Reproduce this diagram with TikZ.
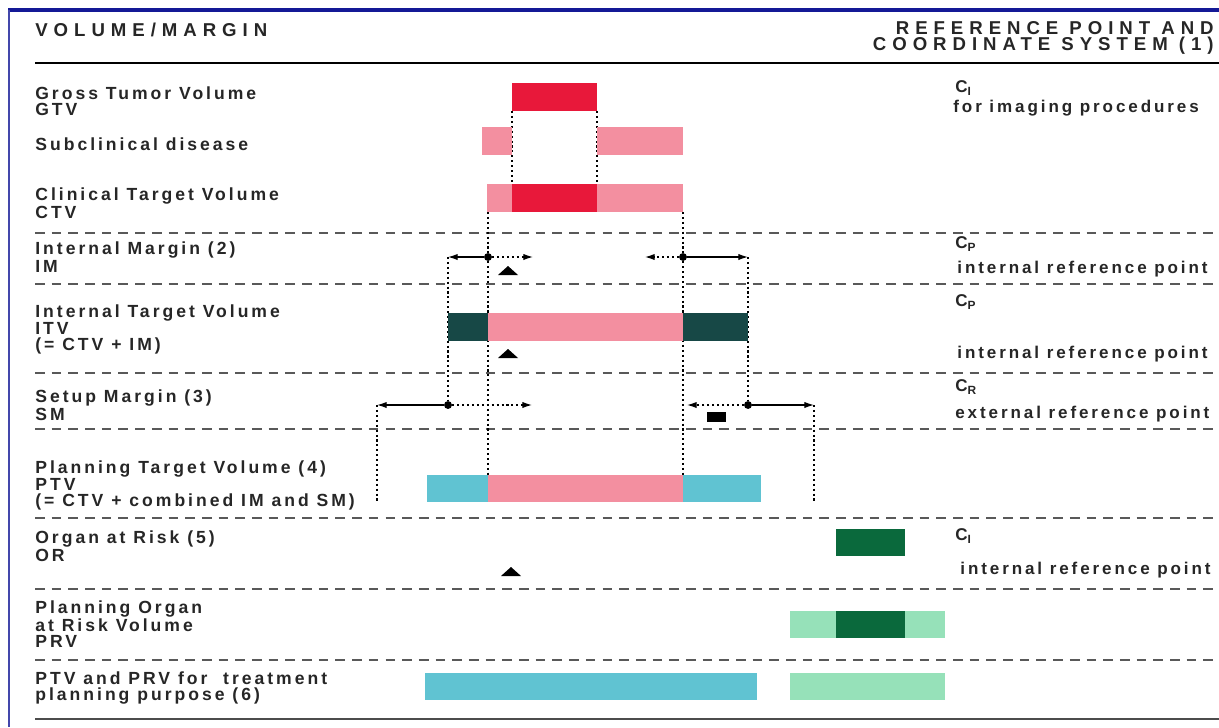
\documentclass[tikz,border=0pt]{standalone}
\usepackage{fontspec}
\setmainfont{Liberation Sans}
\newfontfamily\chartfont{Liberation Sans}[LetterSpace=17]
\newfontfamily\headfont{Liberation Sans}[LetterSpace=32]
\usetikzlibrary{arrows.meta}
\definecolor{gtvred}{RGB}{232,24,58}
\definecolor{ctvpink}{RGB}{243,143,160}
\definecolor{itvteal}{RGB}{23,72,70}
\definecolor{ptvcyan}{RGB}{96,195,210}
\definecolor{ordark}{RGB}{10,105,60}
\definecolor{prvlight}{RGB}{150,225,185}
\definecolor{frameblue}{RGB}{20,25,150}

\begin{document}
\begin{tikzpicture}[x=0.02cm, y=-0.02cm,
  lbl/.style={anchor=west, align=left, inner sep=0pt, text=black!85, font=\chartfont\bfseries\fontsize{10}{8.8}\selectfont},
  rlbl/.style={lbl, font=\chartfont\bfseries\fontsize{9.7}{8.8}\selectfont},
  hdr/.style={lbl, font=\headfont\bfseries\fontsize{10.6}{9.4}\selectfont},
  sep/.style={draw=black!65, line width=0.8pt, dash pattern=on 5.5pt off 4pt},
  guide/.style={line width=0.7pt, dash pattern=on 1.2pt off 1.6pt},
  dot/.style={circle, fill, inner sep=0pt, minimum size=4.5pt},
  arr/.style={-{Latex[length=5.5pt,width=3.6pt]}, line width=0.7pt},
  darr/.style={arr, guide}]
\useasboundingbox (0,0) rectangle (1219,727);
\draw[frameblue, line width=2pt] (8,10) -- (1219,10);
\draw[frameblue!80, line width=0.8pt] (9,10) -- (9,727);

\node[hdr] (hvm) at (35,30) {VOLUME/MARGIN};
\node[hdr, anchor=east, align=right] (hrp) at (1214,38) {REFERENCE POINT AND\\COORDINATE SYSTEM (1)};
\draw[line width=1.6pt] (35,63) -- (1219,63);
\foreach \y in {233,284,373,429,518,589,660}
  \draw[sep] (35,\y) -- (1219,\y);
\draw[black!70, line width=1.2pt] (35,719) -- (1219,719);

\node[lbl] (lgtv) at (35,101) {Gross Tumor Volume\\GTV};
\node[lbl] (lsub) at (35,144) {Subclinical disease};
\node[lbl] (lctv) at (35,203) {Clinical Target Volume\\CTV};
\node[lbl] (lim) at (35,257) {Internal Margin (2)\\IM};
\node[lbl] (litv) at (35,329) {Internal Target Volume\\ITV\\(= CTV + IM)};
\node[lbl] (lsm) at (35,405) {Setup Margin (3)\\SM};
\node[lbl] (lptv) at (35,485) {Planning Target Volume (4)\\PTV\\(= CTV + combined IM and SM)};
\node[lbl] (lor) at (35,546) {Organ at Risk (5)\\OR};
\node[lbl] (lprv) at (35,624) {Planning Organ\\at Risk Volume\\PRV};
\node[lbl] (lboth) at (35,688) {PTV and PRV for~ treatment\\planning purpose (6)};

\node[rlbl] (rci) at (955,88) {C\textsubscript{I}};
\node[rlbl] (rimg) at (953,108) {for imaging procedures};
\node[rlbl] (rcp) at (955,244) {C\textsubscript{P}};
\node[rlbl] (rint) at (957,269) {internal reference point};
\node[rlbl] (rcp2) at (955,302) {C\textsubscript{P}};
\node[rlbl] (rint2) at (957,354) {internal reference point};
\node[rlbl] (rcr) at (955,387) {C\textsubscript{R}};
\node[rlbl] (rext) at (955,414) {external reference point};
\node[rlbl] (rci2) at (955,536) {C\textsubscript{I}};
\node[rlbl] (rint3) at (960,570) {internal reference point};

\coordinate (gtvL) at (512,111); \coordinate (gtvR) at (597,111);
\coordinate (cinL) at (512,184); \coordinate (cinR) at (597,184);
\coordinate (ctvL) at (488,212); \coordinate (ctvR) at (683,212);
\coordinate (ptvL) at (488,475); \coordinate (ptvR) at (683,475);
\coordinate (imLo) at (448,257); \coordinate (imLi) at (533,257);
\coordinate (imRi) at (645,257); \coordinate (imRo) at (748,257);
\coordinate (smLo) at (377,405); \coordinate (smLi) at (532,405);
\coordinate (smRi) at (687,405); \coordinate (smRo) at (814,405);
\coordinate (ptvLo) at (377,503); \coordinate (ptvRo) at (814,503);
\node[dot] (imL) at (488,257) {};
\node[dot] (imR) at (683,257) {};
\node[dot] (smL) at (448,405) {};
\node[dot] (smR) at (748,405) {};

\draw[guide] (gtvL) -- (cinL);
\draw[guide] (gtvR) -- (cinR);
\draw[guide] (ctvL) -- (ptvL);
\draw[guide] (ctvR) -- (ptvR);
\draw[guide] (imLo) -- (smL);
\draw[guide] (imRo) -- (smR);
\draw[guide] (smLo) -- (ptvLo);
\draw[guide] (smRo) -- (ptvRo);

\draw[arr] (imL) -- (imLo); \draw[darr] (imL) -- (imLi);
\draw[darr] (imR) -- (imRi); \draw[arr] (imR) -- (imRo);
\draw[arr] (smL) -- (smLo); \draw[darr] (smL) -- (smLi);
\draw[darr] (smR) -- (smRi); \draw[arr] (smR) -- (smRo);

\fill[gtvred] (512,83) rectangle (597,111);
\fill[ctvpink] (482,127) rectangle (512,155);
\fill[ctvpink] (597,127) rectangle (683,155);
\fill[ctvpink] (487,184) rectangle (683,212);
\fill[gtvred] (512,184) rectangle (597,212);
\fill[itvteal] (448,313) rectangle (488,341);
\fill[ctvpink] (488,313) rectangle (683,341);
\fill[itvteal] (683,313) rectangle (748,341);
\fill[ptvcyan] (427,475) rectangle (488,502);
\fill[ctvpink] (488,475) rectangle (683,502);
\fill[ptvcyan] (683,475) rectangle (761,502);
\fill[ordark] (836,529) rectangle (905,556);
\fill[prvlight] (790,611) rectangle (945,638);
\fill[ordark] (836,611) rectangle (905,638);
\fill[ptvcyan] (425,673) rectangle (757,700);
\fill[prvlight] (790,673) rectangle (945,700);

\foreach \x/\y in {508/271, 508/354, 511/572}
  \fill (\x-10,\y+4) -- (\x,\y-5) -- (\x+10,\y+4) -- cycle;
\fill (707,412) rectangle (726,422);
\end{tikzpicture}
\end{document}
